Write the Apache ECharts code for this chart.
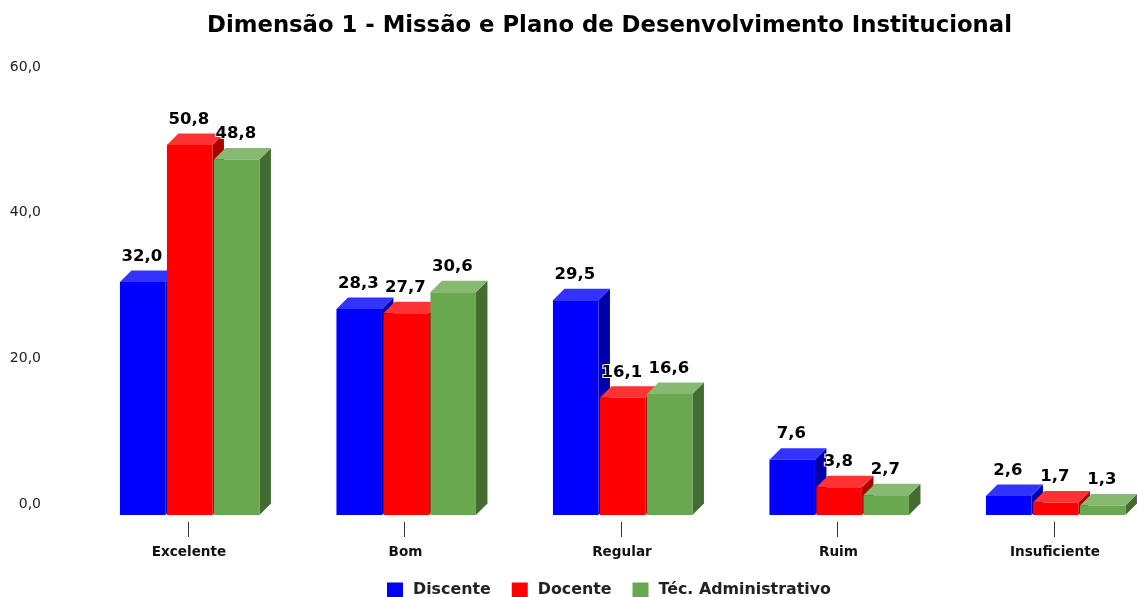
<!DOCTYPE html>
<html>
<head>
<meta charset="utf-8">
<script src="https://cdn.jsdelivr.net/npm/echarts@6/dist/echarts.min.js"></script>
<style>
  html, body { margin: 0; padding: 0; background: #fff; }
  #chart { width: 1137px; height: 597px; }
</style>
</head>
<body>
<div id="chart"></div>
<script>
var categories = ['Excelente', 'Bom', 'Regular', 'Ruim', 'Insuficiente'];
var discente = [32.0, 28.3, 29.5, 7.6, 2.6];
var docente = [50.8, 27.7, 16.1, 3.8, 1.7];
var tecnico = [48.8, 30.6, 16.6, 2.7, 1.3];

var fontName = '"DejaVu Sans", sans-serif';
var depth = 11.5;
var barWidth = 45.5;
var barStep = 47;

function fmt(v) {
  return v.toFixed(1).replace('.', ',');
}

// draws a box with top and side faces, offset inside the category band
function box3d(slot, front, top, side) {
  return function (params, api) {
    var p = api.coord([api.value(0), api.value(1)]);
    var base = api.coord([api.value(0), 0]);
    var x = p[0] + 2 + (slot - 1) * barStep - 23;
    var y = p[1];
    var r = x + barWidth;
    var b = base[1];
    return {
      type: 'group',
      children: [
        { type: 'polygon', shape: { points: [[r, y], [r + depth, y - depth], [r + depth, b - depth], [r, b]] }, style: { fill: side } },
        { type: 'polygon', shape: { points: [[x, y], [x + depth, y - depth], [r + depth, y - depth], [r, y]] }, style: { fill: top } },
        { type: 'rect', shape: { x: x, y: y, width: barWidth, height: b - y }, style: { fill: front } },
        {
          type: 'text',
          z2: 100,
          style: {
            x: x + 22,
            y: y - depth - 14,
            text: fmt(api.value(1)),
            textAlign: 'center',
            textVerticalAlign: 'middle',
            fontFamily: fontName,
            fontSize: 16.5,
            fontWeight: 'bold',
            fill: '#000',
            stroke: '#fff',
            lineWidth: 2,
            strokeFirst: true
          }
        }
      ]
    };
  };
}

function makeSeries(name, values, slot, front, top, side) {
  return {
    name: name,
    type: 'custom',
    clip: false,
    itemStyle: { color: front },
    encode: { x: 0, y: 1 },
    data: values.map(function (v, i) { return [i, v]; }),
    renderItem: box3d(slot, front, top, side)
  };
}

var myChart = echarts.init(document.getElementById('chart'));

var option = {
  animation: false,
  backgroundColor: '#fff',
  title: {
    text: 'Dimensão 1 - Missão e Plano de Desenvolvimento Institucional',
    left: 604.5,
    top: 10,
    textAlign: 'center',
    textStyle: {
      color: '#000',
      fontFamily: fontName,
      fontSize: 22.75,
      fontWeight: 'bold'
    }
  },
  legend: {
    left: 387,
    top: 582,
    padding: 0,
    itemWidth: 16,
    itemHeight: 15,
    itemGap: 21,
    icon: 'rect',
    textStyle: {
      color: '#222',
      fontFamily: fontName,
      fontSize: 15.85,
      fontWeight: 'bold',
      padding: [0, 0, 0, 5]
    },
    data: ['Discente', 'Docente', 'Téc. Administrativo']
  },
  grid: [
    { left: 79.7, top: 78, width: 1082.5, height: 437, outerBoundsMode: 'none' },
    // back wall of the 3D box, only carries the value labels
    { left: 80, top: 67, width: 1000, height: 437, outerBoundsMode: 'none' },
    // floor in front of the bars, only carries ticks and category labels
    { left: 79.7, top: 78, width: 1082.5, height: 444, outerBoundsMode: 'none' }
  ],
  xAxis: [
    { type: 'category', show: false, data: categories },
    { type: 'category', gridIndex: 1, show: false, data: categories },
    {
      type: 'category',
      gridIndex: 2,
      data: categories,
      axisLine: { show: true, lineStyle: { color: 'transparent' } },
      axisTick: {
        show: true,
        alignWithLabel: true,
        length: 15,
        lineStyle: { color: '#333' }
      },
      axisLabel: {
        margin: 23,
        color: '#111',
        fontFamily: fontName,
        fontSize: 13.6,
        fontWeight: 'bold',
        padding: [0, 0, 0, 2],
        interval: 0
      }
    }
  ],
  yAxis: [
    {
      type: 'value',
      min: 0,
      max: 60,
      interval: 20,
      show: false
    },
    {
      type: 'value',
      gridIndex: 1,
      min: 0,
      max: 60,
      interval: 20,
      axisLine: { show: false },
      axisTick: { show: false },
      splitLine: { show: false },
      axisLabel: {
        margin: 39,
        color: '#222',
        fontFamily: fontName,
        fontSize: 14,
        formatter: function (v) { return fmt(v); }
      }
    },
    {
      type: 'value',
      gridIndex: 2,
      min: 0,
      max: 60,
      interval: 20,
      show: false
    }
  ],
  series: [
    makeSeries('Discente', discente, 0, '#0000ff', '#3333ff', '#0000aa'),
    makeSeries('Docente', docente, 1, '#ff0000', '#ff3333', '#aa0000'),
    makeSeries('Téc. Administrativo', tecnico, 2, '#6aa84f', '#88b972', '#446c32')
  ]
};

myChart.setOption(option, true);
</script>
</body>
</html>
